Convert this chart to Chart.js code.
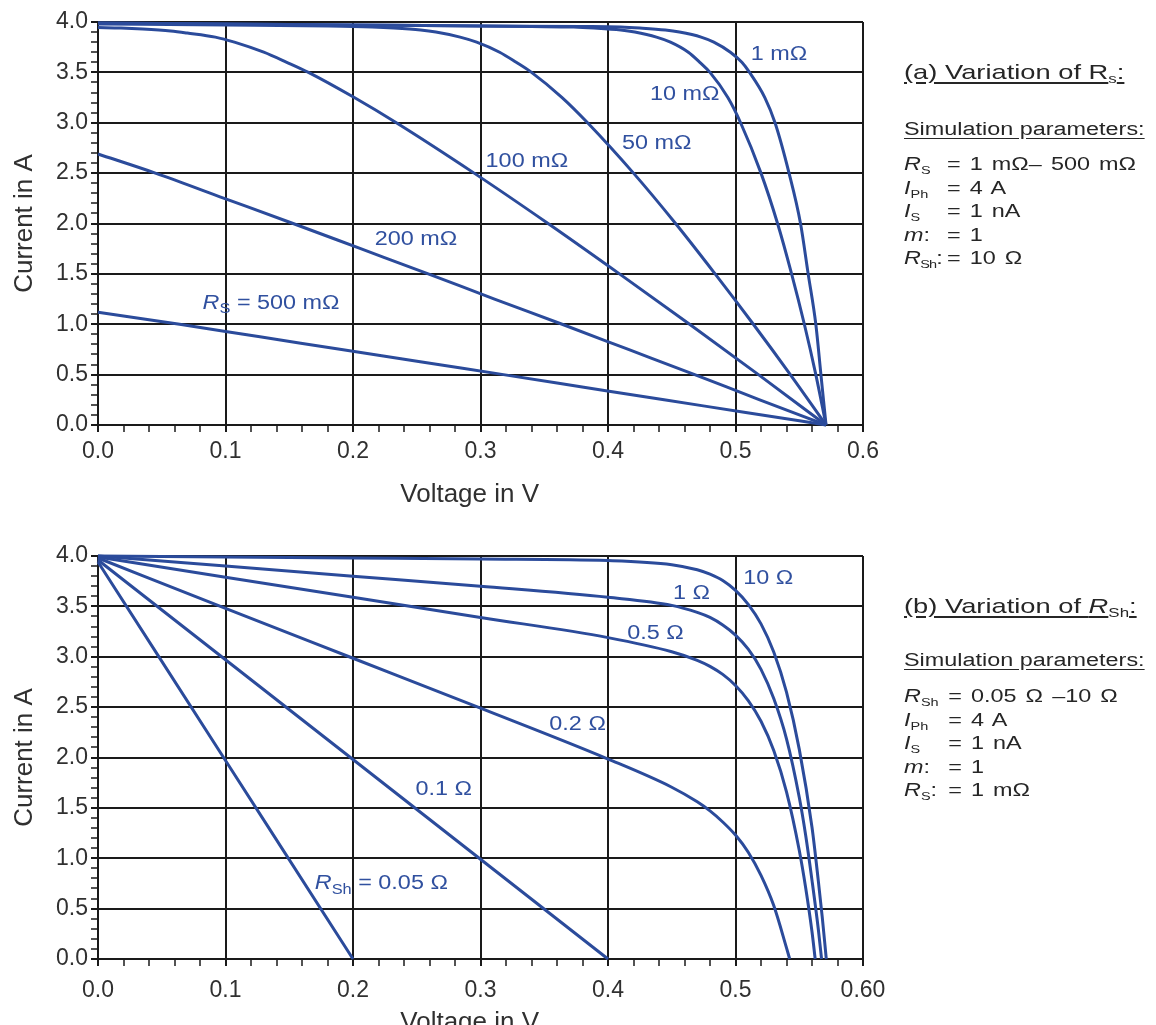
<!DOCTYPE html>
<html>
<head>
<meta charset="utf-8">
<script src="https://cdn.jsdelivr.net/npm/chart.js@4.4.1/dist/chart.umd.min.js"></script>
<style>
  html, body { margin: 0; padding: 0; background: #fff; overflow: hidden; }
  body { width: 1156px; height: 1025px; position: relative;
         font-family: "Liberation Sans", Arial, Helvetica, sans-serif; color: #262626; }
  .plot { position: absolute; left: 0; width: 920px; height: 520px; }
  #plotA { top: 0; }
  #plotB { top: 534px; }
  .txt { position: absolute; left: 904px; white-space: nowrap; transform: scaleX(1.3); transform-origin: 0 0; }
  .head { font-size: 21px; line-height: 24px; text-decoration: underline; text-underline-offset: 3px; }
  .subhead { font-size: 18px; line-height: 22px; text-decoration: underline; text-underline-offset: 3px; }
  .params { display: grid; grid-template-columns: 33px auto; font-size: 18px; line-height: 23.5px; word-spacing: 2px; }
  .params .tight { letter-spacing: -0.6px; }
  sub { font-size: 0.62em; vertical-align: -0.34em; line-height: 0; word-spacing: 0; }
</style>
</head>
<body>
<div class="plot" id="plotA"><canvas id="chartA" width="920" height="520"></canvas></div>
<div class="plot" id="plotB"><canvas id="chartB" width="920" height="520"></canvas></div>

<div class="txt head" style="top:60px">(a) Variation of R<sub>s</sub>:</div>
<div class="txt subhead" style="top:118px">Simulation parameters:</div>
<div class="txt params" style="top:153px">
  <span><i>R</i><sub>S</sub></span><span>= 1 mΩ– 500 mΩ</span>
  <span><i>I</i><sub>Ph</sub></span><span>= 4 A</span>
  <span><i>I</i><sub>S</sub></span><span>= 1 nA</span>
  <span><i>m</i>:</span><span>= 1</span>
  <span class="tight"><i>R</i><sub>Sh</sub>:</span><span>= 10 Ω</span>
</div>

<div class="txt head" style="top:594px">(b) Variation of <i>R</i><sub>Sh</sub>:</div>
<div class="txt subhead" style="top:649px">Simulation parameters:</div>
<div class="txt params" style="top:685px; grid-template-columns: 34px auto;">
  <span><i>R</i><sub>Sh</sub></span><span>= 0.05 Ω –10 Ω</span>
  <span><i>I</i><sub>Ph</sub></span><span>= 4 A</span>
  <span><i>I</i><sub>S</sub></span><span>= 1 nA</span>
  <span><i>m</i>:</span><span>= 1</span>
  <span><i>R</i><sub>S</sub>:</span><span>= 1 mΩ</span>
</div>

<script>

const xTickLabelsA = ['0.0', '0.1', '0.2', '0.3', '0.4', '0.5', '0.6'];
const xTickLabelsB = ['0.0', '0.1', '0.2', '0.3', '0.4', '0.5', '0.60'];
const yTickLabels  = ['0.0', '0.5', '1.0', '1.5', '2.0', '2.5', '3.0', '3.5', '4.0'];

// (a) series resistance sweep — voltage (V) and current (A)
const rs1V   = [0, 0.1, 0.2, 0.3, 0.38, 0.41, 0.425, 0.445, 0.456, 0.473, 0.483, 0.496, 0.505, 0.511, 0.523, 0.531, 0.542, 0.551, 0.557, 0.563, 0.567, 0.571];
const rs1I   = [3.99, 3.98, 3.97, 3.96, 3.955, 3.95, 3.94, 3.92, 3.90, 3.85, 3.80, 3.70, 3.60, 3.50, 3.25, 3.00, 2.50, 2.00, 1.50, 1.00, 0.50, 0];
const rs10V  = [0, 0.1, 0.2, 0.3, 0.34, 0.373, 0.389, 0.41, 0.421, 0.438, 0.449, 0.463, 0.472, 0.48, 0.494, 0.504, 0.52, 0.533, 0.544, 0.554, 0.563, 0.571];
const rs10I  = [3.99, 3.98, 3.97, 3.96, 3.955, 3.95, 3.94, 3.92, 3.90, 3.85, 3.80, 3.70, 3.60, 3.50, 3.25, 3.00, 2.50, 2.00, 1.50, 1.00, 0.50, 0];
const rs50V  = [0, 0.1, 0.181, 0.215, 0.232, 0.253, 0.265, 0.284, 0.297, 0.315, 0.328, 0.34, 0.364, 0.384, 0.42, 0.453, 0.484, 0.514, 0.543, 0.571];
const rs50I  = [3.98, 3.97, 3.96, 3.95, 3.94, 3.92, 3.90, 3.85, 3.80, 3.70, 3.60, 3.50, 3.25, 3.00, 2.50, 2.00, 1.50, 1.00, 0.50, 0];
const rs100V = [0, 0.018, 0.035, 0.057, 0.07, 0.092, 0.107, 0.13, 0.148, 0.165, 0.201, 0.234, 0.295, 0.353, 0.409, 0.464, 0.518, 0.571];
const rs100I = [3.945, 3.94, 3.93, 3.91, 3.89, 3.85, 3.80, 3.70, 3.60, 3.50, 3.25, 3.00, 2.50, 2.00, 1.50, 1.00, 0.50, 0];
const rs200V = [0, 0.045, 0.099, 0.153, 0.206, 0.259, 0.311, 0.364, 0.416, 0.468, 0.519, 0.571];
const rs200I = [2.69, 2.50, 2.25, 2.00, 1.75, 1.50, 1.25, 1.00, 0.75, 0.50, 0.25, 0];
const rs500V = [0, 0.064, 0.127, 0.191, 0.254, 0.318, 0.381, 0.444, 0.508, 0.571];
const rs500I = [1.12, 1.0, 0.875, 0.75, 0.625, 0.5, 0.375, 0.25, 0.125, 0];

// (b) shunt resistance sweep
const rsh005V = [0, 0.1, 0.2];
const rsh005I = [3.94, 1.97, 0];
const rsh01V  = [0, 0.1, 0.2, 0.3, 0.4];
const rsh01I  = [3.96, 2.97, 1.98, 0.99, 0];
const rsh02V  = [0, 0.1, 0.2, 0.3, 0.4, 0.45, 0.47, 0.48, 0.49, 0.5, 0.51, 0.52, 0.53, 0.54, 0.5425];
const rsh02I  = [3.98, 3.48, 2.985, 2.49, 1.985, 1.705, 1.56, 1.47, 1.36, 1.23, 1.06, 0.83, 0.53, 0.11, 0];
const rsh05V  = [0, 0.1, 0.2, 0.3, 0.4, 0.45, 0.47, 0.48, 0.49, 0.5, 0.51, 0.52, 0.53, 0.54, 0.55, 0.555, 0.56, 0.5625];
const rsh05I  = [3.99, 3.79, 3.59, 3.39, 3.19, 3.05, 2.965, 2.905, 2.825, 2.715, 2.565, 2.36, 2.07, 1.66, 1.08, 0.71, 0.27, 0];
const rsh1V   = [0, 0.1, 0.2, 0.3, 0.4, 0.45, 0.47, 0.48, 0.49, 0.5, 0.51, 0.52, 0.53, 0.54, 0.55, 0.555, 0.56, 0.565, 0.5675];
const rsh1I   = [4.0, 3.9, 3.8, 3.7, 3.59, 3.51, 3.44, 3.39, 3.315, 3.215, 3.075, 2.875, 2.585, 2.185, 1.605, 1.23, 0.78, 0.29, 0];
const rsh10V  = [0, 0.1, 0.2, 0.3, 0.4, 0.45, 0.47, 0.48, 0.49, 0.5, 0.51, 0.52, 0.53, 0.54, 0.55, 0.56, 0.565, 0.568, 0.5712];
const rsh10I  = [4.0, 3.99, 3.98, 3.97, 3.955, 3.914, 3.863, 3.819, 3.756, 3.658, 3.52, 3.326, 3.047, 2.648, 2.083, 1.307, 0.77, 0.42, 0];

// Curve labels, anchored in data units (left edge, vertical middle)
const curveLabelsA = [
  { v: 0.512, i: 3.68, parts: [{ t: '1 mΩ' }] },
  { v: 0.433, i: 3.28, parts: [{ t: '10 mΩ' }] },
  { v: 0.411, i: 2.79, parts: [{ t: '50 mΩ' }] },
  { v: 0.304, i: 2.62, parts: [{ t: '100 mΩ' }] },
  { v: 0.217, i: 1.84, parts: [{ t: '200 mΩ' }] },
  { v: 0.082, i: 1.21, parts: [{ t: 'R', it: true }, { t: 'S', sub: true }, { t: ' = 500 mΩ' }] },
];
const curveLabelsB = [
  { v: 0.506, i: 3.78, parts: [{ t: '10 Ω' }] },
  { v: 0.451, i: 3.63, parts: [{ t: '1 Ω' }] },
  { v: 0.415, i: 3.23, parts: [{ t: '0.5 Ω' }] },
  { v: 0.354, i: 2.33, parts: [{ t: '0.2 Ω' }] },
  { v: 0.249, i: 1.68, parts: [{ t: '0.1 Ω' }] },
  { v: 0.170, i: 0.75, parts: [{ t: 'R', it: true }, { t: 'Sh', sub: true }, { t: ' = 0.05 Ω' }] },
];

// ── Styling ──────────────────────────────────────────────────────────────────

const FONT = '"Liberation Sans", Arial, Helvetica, sans-serif';
const CURVE_BLUE = '#2b4b9b';
const LABEL_BLUE = '#30509f';
const INK = '#1a1a1a';
const TEXT = '#303030';

function toPoints(vs, is) {
  return vs.map((v, k) => ({ x: v, y: is[k] }));
}

function isMajor(index) {
  return index % 5 === 0;
}

// Writes the per-curve annotations next to the lines, with italic/subscript
// parts for the R_S / R_Sh symbols. The source figure's lettering is a bit
// wider than Liberation Sans, hence the small horizontal stretch.
const curveLabelPlugin = {
  id: 'curveLabels',
  afterDatasetsDraw(chart, _args, opts) {
    const { ctx, scales: { x, y } } = chart;
    (opts.items || []).forEach((item) => {
      ctx.save();
      ctx.translate(x.getPixelForValue(item.v), y.getPixelForValue(item.i));
      ctx.scale(opts.stretch, 1);
      ctx.fillStyle = opts.color;
      ctx.textBaseline = 'middle';
      let px = 0;
      item.parts.forEach((part) => {
        const size = part.sub ? opts.size * 0.7 : opts.size;
        ctx.font = `${part.it ? 'italic ' : ''}${size}px ${FONT}`;
        ctx.fillText(part.t, px, part.sub ? opts.size * 0.32 : 0);
        px += ctx.measureText(part.t).width;
      });
      ctx.restore();
    });
  },
};

function makeChart(canvasId, series, labels, xTickLabels, xLayout) {
  const ctx = document.getElementById(canvasId);
  const gridOpts = {
    color: (c) => (isMajor(c.index) ? INK : 'rgba(0,0,0,0)'),
    lineWidth: 2,
    tickColor: INK,
    tickWidth: (c) => (isMajor(c.index) ? 2 : 1.5),
    tickLength: 7,
  };
  return new Chart(ctx, {
    type: 'scatter',
    plugins: [curveLabelPlugin],
    data: {
      datasets: series.map(([vs, is]) => ({
        data: toPoints(vs, is),
        showLine: true,
        borderColor: CURVE_BLUE,
        borderWidth: 3,
        pointRadius: 0,
        pointHoverRadius: 0,
        fill: false,
        cubicInterpolationMode: 'monotone',
        clip: 3,
      })),
    },
    options: {
      responsive: false,
      animation: false,
      devicePixelRatio: 1,
      events: [],
      layout: { padding: { top: 22, right: 57, left: 0, bottom: 0 } },
      plugins: {
        legend: { display: false },
        tooltip: { enabled: false },
        curveLabels: { items: labels, color: LABEL_BLUE, size: 20, stretch: 1.17 },
      },
      scales: {
        x: {
          type: 'linear',
          min: 0,
          max: 0.6,
          afterFit: (scale) => { scale.height = 95; },
          ticks: {
            stepSize: 0.02,
            autoSkip: false,
            maxRotation: 0,
            padding: xLayout.tickPad,
            color: TEXT,
            font: { family: FONT, size: 23 },
            callback: (value, index) => (isMajor(index) ? xTickLabels[index / 5] : ''),
          },
          grid: gridOpts,
          border: { display: true, color: INK, width: 2 },
          title: {
            display: true,
            // trailing spaces nudge the centred title a little left, as in the figure
            text: 'Voltage in V   ',
            color: TEXT,
            font: { family: FONT, size: 26 },
            padding: { top: 0, bottom: xLayout.titlePad },
          },
        },
        y: {
          type: 'linear',
          min: 0,
          max: 4,
          afterFit: (scale) => { scale.width = 98; },
          ticks: {
            stepSize: 0.1,
            autoSkip: false,
            padding: 3,
            color: TEXT,
            font: { family: FONT, size: 23 },
            callback: (value, index) => (isMajor(index) ? yTickLabels[index / 5] : ''),
          },
          grid: gridOpts,
          border: { display: true, color: INK, width: 2 },
          title: {
            display: true,
            text: 'Current in A',
            color: TEXT,
            font: { family: FONT, size: 26 },
            padding: { top: 9, bottom: 0 },
          },
        },
      },
    },
  });
}

makeChart('chartA', [
  [rs1V, rs1I], [rs10V, rs10I], [rs50V, rs50I],
  [rs100V, rs100I], [rs200V, rs200I], [rs500V, rs500I],
], curveLabelsA, xTickLabelsA, { tickPad: 6, titlePad: 10 });

makeChart('chartB', [
  [rsh10V, rsh10I], [rsh1V, rsh1I], [rsh05V, rsh05I],
  [rsh02V, rsh02I], [rsh01V, rsh01I], [rsh005V, rsh005I],
], curveLabelsB, xTickLabelsB, { tickPad: 11, titlePad: 16 });
</script>
</body>
</html>
